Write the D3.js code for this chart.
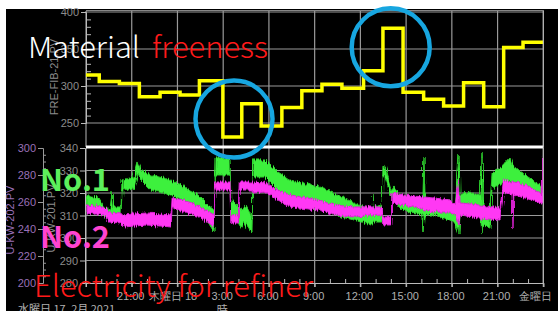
<!DOCTYPE html>
<html>
<head>
<meta charset="utf-8">
<script src="https://cdn.jsdelivr.net/npm/d3@7"></script>
<style>
  body { margin: 0; background: #fff; }
  svg { display: block; }
</style>
</head>
<body>
<script>
const width = 558, height = 311;

// hours since 17 Feb 18:00
const xTickHours = [0, 3, 6, 9, 12, 15, 18, 21, 24, 27, 30];
const xTickLabels = ["", "21:00", "木曜日 18", "3:00", "6:00", "9:00", "12:00", "15:00", "18:00", "21:00", "金曜日"];

// FRE-FIB-21.PV (freeness), step values
const freeTimes = [0, 0.87, 2.19, 3.5, 4.86, 6.17, 7.44, 8.98, 10.22, 11.49, 12.85, 14.16, 15.48, 16.79, 18.21, 19.48, 20.8, 22.15, 23.46, 24.77, 26.09, 27.4, 28.67];
const freeValues = [315, 306, 303.5, 285.5, 291.5, 288, 307, 231, 276, 246, 271, 293.5, 302.5, 297, 320.5, 378, 291.5, 282, 273, 304.5, 272, 352, 359];

// U-KW-201.PV (No.1) : [hour, low, high]
const no1Band = [
  [0, 314.7, 319.1], [0.33, 313.8, 318.2], [0.85, 313.3, 317.8], [1.25, 308.9, 313.3],
  [1.57, 308, 312.4], [1.71, 310, 320.4], [1.8, 310.2, 313.8], [2.3, 310.2, 313.8],
  [2.36, 321.3, 325.8], [3.15, 322.2, 327.1], [3.41, 328.9, 333.8], [3.61, 325.8, 330.2],
  [4.26, 321.3, 328], [5.58, 319.1, 325.8], [6.43, 316.9, 322.7], [7.35, 312.4, 319.1],
  [8.0, 307.1, 314.7], [8.4, 302.7, 312.4], [8.46, 328, 335.6], [9.45, 328, 335.6],
  [9.5, 309.3, 316.9], [9.78, 308.9, 315.6], [10.2, 304.4, 312.4], [10.43, 307.1, 314.7],
  [10.89, 302.2, 308.9], [10.96, 327.1, 334.7], [11.74, 327.1, 334.7], [12.6, 321.3, 329.3],
  [13.38, 317.8, 325.8], [15.22, 314.7, 322.7], [15.61, 312.4, 322.2], [16.27, 310.2, 320],
  [17.58, 308, 315.6], [18.76, 305.8, 312.4], [18.83, 307, 319.1], [18.89, 307.1, 313.8],
  [19.42, 307.1, 314.7], [19.48, 328, 332.4], [19.65, 326.7, 331.6], [20.07, 317.8, 321.3],
  [20.21, 316.9, 322.7], [20.53, 313.8, 319.1], [21.26, 311.1, 318.2], [22.1, 310.2, 316.9],
  [22.17, 302.7, 336], [22.25, 310.2, 316.9], [22.83, 310.2, 316.9], [23.88, 308, 316.9],
  [24.21, 306.7, 313.8], [24.47, 301.3, 336.9], [24.54, 311.1, 319.1], [25.19, 312.4, 320.4],
  [25.85, 311.1, 319.1], [25.98, 302.2, 337.8], [26.05, 305.8, 313.8], [26.5, 304.4, 313.8],
  [26.64, 322.2, 328.9], [27.16, 323.6, 331.1], [27.82, 325.8, 336], [28.01, 323.6, 332.4],
  [28.8, 319.1, 328], [29.98, 315.6, 322.7]
];

// U-KW-202.PV (No.2) : [hour, low, high]
const no2Band = [
  [0, 251.9, 257.8], [1.18, 250.4, 256.3], [1.5, 245.2, 252.6], [2.3, 244.4, 251.9],
  [2.5, 241.5, 250.4], [4, 243, 251.9], [5.58, 241.5, 250.4], [5.65, 255.6, 263],
  [6.43, 252.6, 261.5], [7.54, 248.9, 256.3], [8.4, 241.5, 250.4], [8.46, 268.9, 274.8],
  [9.45, 268.9, 274.8], [9.5, 244.4, 250.4], [10.0, 244.4, 250.4], [10.05, 268.9, 274.8],
  [10.89, 268.9, 274.8], [10.96, 266.7, 274.8], [11.74, 267.4, 274.1], [12.6, 261.5, 268.9],
  [13.38, 256.3, 265.2], [15.22, 254.1, 261.5], [15.61, 252.6, 260], [16.27, 250.4, 257.8],
  [17.58, 248.9, 256.3], [19.42, 250.4, 256.3], [19.55, 243, 248.9], [20.0, 243, 248.9],
  [20.07, 259.3, 266.7], [20.8, 257.8, 265.2], [22.83, 252.6, 263], [23.88, 252.6, 261.5],
  [24.21, 250.4, 257.8], [24.47, 243, 276.3], [24.54, 250.4, 259.3], [25.85, 248.1, 257.8],
  [27.16, 246.7, 255.6], [27.4, 267.4, 276.3], [27.95, 265.2, 274.8], [28.01, 240.7, 274.8],
  [28.07, 265.2, 274.8], [28.8, 263, 272.6], [29.85, 259.3, 266.7], [29.95, 259.3, 294.8]
];

const topTicks = [250, 300, 350, 400];
const no1Ticks = [280, 290, 300, 310, 320, 330, 340];
const no2Ticks = [200, 220, 240, 260, 280, 300];

const svg = d3.select("body").append("svg")
  .attr("width", width)
  .attr("height", height);

svg.append("rect").attr("x", 6).attr("y", 9).attr("width", width - 6).attr("height", height - 9).attr("fill", "#000");

const x = d3.scaleLinear().domain([0, 30]).range([86, 543.3]);
const yTop = d3.scaleLinear().domain([250, 400]).range([123, 12]);
const y1 = d3.scaleLinear().domain([280, 340]).range([283, 148]);
const y2 = d3.scaleLinear().domain([200, 300]).range([283, 148]);

const defs = svg.append("defs");
defs.append("clipPath").attr("id", "clipTop").append("rect")
  .attr("x", 86).attr("y", 10).attr("width", 457.3).attr("height", 137);
defs.append("clipPath").attr("id", "clipBot").append("rect")
  .attr("x", 86).attr("y", 148).attr("width", 457.3).attr("height", 135);
// rough edge texture for the noisy trend bands
const rough = defs.append("filter").attr("id", "rough")
  .attr("x", "-2%").attr("y", "-10%").attr("width", "104%").attr("height", "120%");
rough.append("feTurbulence").attr("type", "fractalNoise")
  .attr("baseFrequency", "0.9 0.04").attr("numOctaves", 2).attr("seed", 3).attr("result", "n");
rough.append("feDisplacementMap").attr("in", "SourceGraphic").attr("in2", "n")
  .attr("scale", 6).attr("xChannelSelector", "B").attr("yChannelSelector", "R");

const grid = "#9a9a9a";

// ---- top panel ----
const topG = svg.append("g");
topG.selectAll(".vg").data(xTickHours).enter().append("line")
  .attr("x1", d => x(d)).attr("x2", d => x(d)).attr("y1", 11).attr("y2", 147)
  .attr("stroke", grid).attr("stroke-width", 1.2);
topG.selectAll(".hg").data(topTicks).enter().append("line")
  .attr("x1", 86).attr("x2", 543.3).attr("y1", d => yTop(d)).attr("y2", d => yTop(d))
  .attr("stroke", grid).attr("stroke-width", 1.2);

const topAxis = svg.append("g").attr("transform", "translate(86,0)")
  .call(d3.axisLeft(yTop).tickValues(topTicks).tickSize(5).tickPadding(2));
topAxis.select(".domain").attr("stroke", "#bbb");
topAxis.selectAll("line").attr("stroke", "#bbb");
topAxis.selectAll("text").attr("fill", "#8c8c8c").style("font", "11px 'Liberation Sans'");
svg.append("g").attr("transform", "translate(86,0)")
  .call(d3.axisRight(yTop).tickValues(d3.range(260, 400, 10).filter(v => v % 50)).tickSize(5).tickFormat(""))
  .call(g => g.select(".domain").remove())
  .selectAll("line").attr("stroke", "#bbb");
svg.append("text").attr("transform", "translate(58,77) rotate(-90)")
  .attr("text-anchor", "middle").attr("fill", "#8c8c8c")
  .style("font", "11px 'Liberation Sans'").text("FRE-FIB-21.PV");

const stepData = freeTimes.map((t, i) => [t, freeValues[i]]);
stepData.push([30, freeValues[freeValues.length - 1]]);
svg.append("path").datum(stepData)
  .attr("clip-path", "url(#clipTop)")
  .attr("fill", "none").attr("stroke", "#ffff00").attr("stroke-width", 3.5)
  .attr("d", d3.line().x(d => x(d[0])).y(d => yTop(d[1])).curve(d3.curveStepAfter));

// ---- bottom panel ----
const bot = svg.append("g");
bot.append("rect").attr("x", 86).attr("y", 148).attr("width", 457.3).attr("height", 135).attr("fill", "#000");
bot.selectAll(".vg").data(xTickHours).enter().append("line")
  .attr("x1", d => x(d)).attr("x2", d => x(d)).attr("y1", 148).attr("y2", 287)
  .attr("stroke", grid).attr("stroke-width", 1.2);
bot.selectAll(".hg").data(no1Ticks.slice(1, -1)).enter().append("line")
  .attr("x1", 86).attr("x2", 543.3).attr("y1", d => y1(d)).attr("y2", d => y1(d))
  .attr("stroke", grid).attr("stroke-width", 1.2);

const areaGen = ys => d3.area().x(d => x(d[0])).y0(d => ys(d[1])).y1(d => ys(d[2]));
const bands = bot.append("g").attr("clip-path", "url(#clipBot)");
bands.append("path").datum(no1Band).attr("filter", "url(#rough)")
  .attr("fill", "#3cf03c").attr("stroke", "#2ccc2c").attr("stroke-width", 1)
  .attr("d", areaGen(y1));
bands.append("path").datum(no2Band).attr("filter", "url(#rough)")
  .attr("fill", "#ff38f4").attr("stroke", "#dd22d4").attr("stroke-width", 1)
  .attr("d", areaGen(y2));

// white top border of bottom panel
bot.append("line").attr("x1", 86).attr("x2", 543.3).attr("y1", 147).attr("y2", 147)
  .attr("stroke", "#fff").attr("stroke-width", 3);
// frame
svg.append("line").attr("x1", 543.3).attr("x2", 543.3).attr("y1", 10).attr("y2", 283)
  .attr("stroke", "#bbb").attr("stroke-width", 1);
svg.append("line").attr("x1", 86).attr("x2", 544).attr("y1", 10.5).attr("y2", 10.5)
  .attr("stroke", "#888").attr("stroke-width", 1);

// inner axis (No.1)
const ax1 = svg.append("g").attr("transform", "translate(85,0)")
  .call(d3.axisLeft(y1).tickValues(no1Ticks).tickSize(5).tickPadding(2));
ax1.select(".domain").attr("stroke", "#bbb");
ax1.selectAll("line").attr("stroke", "#bbb");
ax1.selectAll("text").attr("fill", "#8c8c8c").style("font", "11px 'Liberation Sans'");
svg.append("text").attr("transform", "translate(55,218) rotate(-90)")
  .attr("text-anchor", "middle").attr("fill", "#8c8c8c")
  .style("font", "11px 'Liberation Sans'").text("U-KW-201.PV");

// outer axis (No.2)
const purple = "#9a70b8";
const ax2 = svg.append("g").attr("transform", "translate(43,0)")
  .call(d3.axisLeft(y2).tickValues(no2Ticks).tickSize(5).tickPadding(2));
ax2.select(".domain").attr("stroke", "#999");
ax2.selectAll("line").attr("stroke", "#999");
ax2.selectAll("text").attr("fill", purple).style("font", "11px 'Liberation Sans'");
svg.append("g").attr("transform", "translate(43,0)")
  .call(d3.axisRight(y2).tickValues(d3.range(205, 300, 5).filter(v => v % 20)).tickSize(3).tickFormat(""))
  .call(g => g.select(".domain").remove())
  .selectAll("line").attr("stroke", "#999");
svg.append("text").attr("transform", "translate(14,220) rotate(-90)")
  .attr("text-anchor", "middle").attr("fill", purple)
  .style("font", "11px 'Liberation Sans'").text("U-KW-202.PV");

// x axis
const xAxis = svg.append("g").attr("transform", "translate(0,283)")
  .call(d3.axisBottom(x).tickValues(xTickHours).tickSize(4).tickPadding(5)
    .tickFormat((d, i) => xTickLabels[i]));
xAxis.select(".domain").attr("stroke", "#bbb");
xAxis.selectAll("line").attr("stroke", "#bbb");
xAxis.selectAll("text").attr("fill", "#b0b0b0").style("font", "11px 'Liberation Sans'")
  .attr("dx", (d, i) => i === 2 ? -5 : (i === 10 ? -8 : -1.5));
svg.append("g").attr("transform", "translate(0,283)")
  .call(d3.axisTop(x).tickValues(d3.range(1, 30).filter(h => h % 3)).tickSize(4).tickFormat(""))
  .call(g => g.select(".domain").remove())
  .selectAll("line").attr("stroke", "#bbb");
svg.append("text").attr("x", 18).attr("y", 313).attr("fill", "#b0b0b0")
  .style("font", "11px 'Noto Sans CJK JP'").text("水曜日 17. 2月 2021");
svg.append("text").attr("x", x(9) - 1).attr("y", 314).attr("text-anchor", "middle").attr("fill", "#b0b0b0")
  .style("font", "11px 'Noto Sans CJK JP'").text("時");

// annotations
const ann = svg.append("g").style("font-family", "'Noto Sans CJK JP', 'Noto Sans', sans-serif");
ann.append("text").attr("x", 28).attr("y", 58).attr("fill", "#fff")
  .attr("textLength", 112).attr("lengthAdjust", "spacingAndGlyphs")
  .style("font-size", "29px").style("font-weight", 300).text("Material");
ann.append("text").attr("x", 152).attr("y", 58).attr("fill", "#ff1a1a")
  .attr("textLength", 116).attr("lengthAdjust", "spacingAndGlyphs")
  .style("font-size", "29px").style("font-weight", 300).text("freeness");
ann.append("text").attr("x", 40).attr("y", 191).attr("fill", "#5cf05c")
  .attr("textLength", 70).attr("lengthAdjust", "spacingAndGlyphs")
  .style("font-size", "30px").style("font-weight", 700).text("No.1");
ann.append("text").attr("x", 40).attr("y", 248).attr("fill", "#ff44d0")
  .attr("textLength", 70).attr("lengthAdjust", "spacingAndGlyphs")
  .style("font-size", "30px").style("font-weight", 700).text("No.2");
ann.append("text").attr("x", 34).attr("y", 297).attr("fill", "#ff1a1a")
  .attr("textLength", 279).attr("lengthAdjust", "spacingAndGlyphs")
  .style("font-size", "30px").style("font-weight", 300).text("Electricity for refiner");

// highlight circles
const circles = [[234, 119, 38.5], [390.7, 47.3, 39]];
svg.selectAll(".mark").data(circles).enter().append("circle")
  .attr("cx", d => d[0]).attr("cy", d => d[1]).attr("r", d => d[2])
  .attr("fill", "none").attr("stroke", "#17a6e0").attr("stroke-width", 4.5);
</script>
</body>
</html>
